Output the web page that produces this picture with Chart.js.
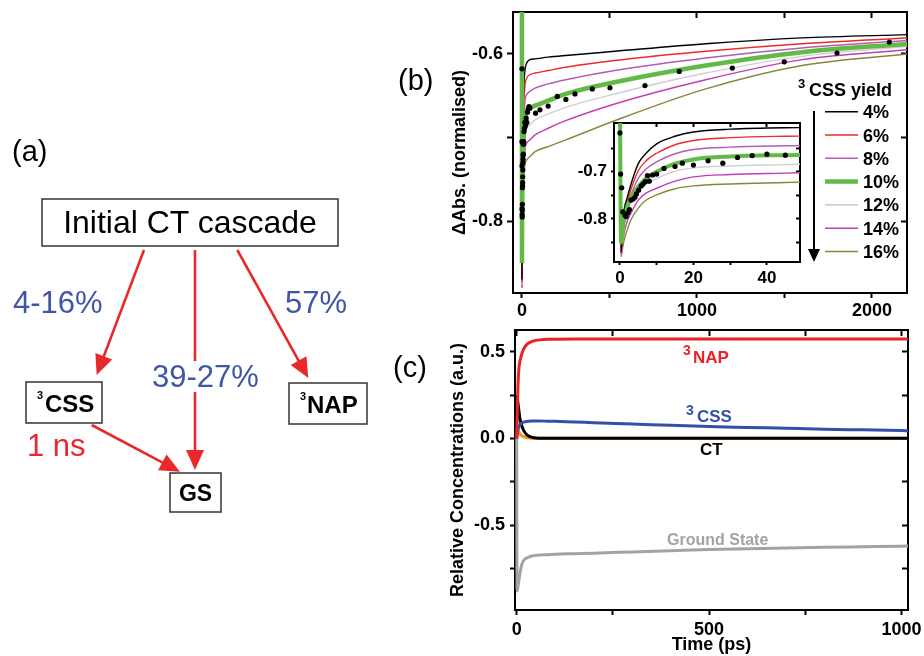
<!DOCTYPE html>
<html>
<head>
<meta charset="utf-8">
<script src="https://cdn.jsdelivr.net/npm/chart.js@4.4.0/dist/chart.umd.min.js"></script>
<style>
    body { margin: 0; background: #fff; width: 924px; height: 656px; overflow: hidden; position: relative; font-family: 'Liberation Sans', Arial, sans-serif; }
    canvas { position: absolute; }
    #cb { left: 440px; top: 0; }
    #ci { left: 570px; top: 118px; }
    #cc { left: 440px; top: 320px; }
    #ann { position: absolute; left: 0; top: 0; }
</style>
</head>
<body>
<canvas id="cb" width="484" height="320"></canvas>
<canvas id="ci" width="235" height="172"></canvas>
<canvas id="cc" width="484" height="336"></canvas>

<svg id="ann" width="924" height="656" font-family="'Liberation Sans', Arial, sans-serif">
    <text x="12" y="161" font-size="29">(a)</text>
    <text x="398" y="90" font-size="29">(b)</text>
    <text x="393" y="377" font-size="29">(c)</text>

    <g id="arrows" stroke="#e8282b" fill="#e8282b" stroke-width="2.6"></g>

    <rect x="42" y="199" width="296" height="47" fill="#fff" stroke="#333" stroke-width="1.5"/>
    <text x="190" y="233" font-size="32" text-anchor="middle">Initial CT cascade</text>

    <text x="13" y="313" font-size="31" fill="#3f55a5">4-16%</text>
    <text x="285" y="313" font-size="31" fill="#3f55a5">57%</text>
    <rect x="150" y="361" width="114" height="31" fill="#fff"/>
    <text x="152" y="387" font-size="31" fill="#3f55a5">39-27%</text>
    <text x="27" y="456" font-size="31" fill="#e8282b">1 ns</text>

    <rect x="26" y="382" width="76" height="41" fill="#fff" stroke="#333" stroke-width="1.5"/>
    <text x="37" y="399" font-size="11" font-weight="bold">3</text>
    <text x="45" y="412" font-size="24" font-weight="bold">CSS</text>
    <rect x="289" y="383" width="78" height="41" fill="#fff" stroke="#333" stroke-width="1.5"/>
    <text x="300" y="400" font-size="11" font-weight="bold">3</text>
    <text x="307" y="413" font-size="24" font-weight="bold">NAP</text>
    <rect x="170" y="473" width="51" height="39" fill="#fff" stroke="#333" stroke-width="1.5"/>
    <text x="195.5" y="501" font-size="23" font-weight="bold" text-anchor="middle">GS</text>

    <g font-weight="bold">
        <text x="798" y="88" font-size="13">3</text>
        <text x="809" y="96" font-size="18">CSS yield</text>
        <g id="legend" font-size="18"></g>
        <line x1="814" y1="111" x2="814" y2="250" stroke="#000" stroke-width="2"/>
        <polygon points="808,249 820,249 814,262" fill="#000"/>
    </g>

    <g font-weight="bold">
        <text x="683" y="355" font-size="14" fill="#ec2227">3</text>
        <text x="693" y="363" font-size="17" fill="#ec2227">NAP</text>
        <text x="686" y="415" font-size="14" fill="#3450a6">3</text>
        <text x="697" y="422" font-size="17" fill="#3450a6">CSS</text>
        <text x="700" y="455" font-size="17" fill="#000">CT</text>
        <text x="667" y="545" font-size="16" fill="#a3a3a3">Ground State</text>
    </g>
</svg>

<script>
// panel (b): fitted traces for each 3CSS yield
const tFit = [0, 0.3, 1, 2, 3, 5, 7, 10, 15, 20, 30, 45, 75, 150, 250, 530, 1050, 1600, 2210];
const yield04 = [-0.5, -0.87, -0.79, -0.755, -0.727, -0.683, -0.662, -0.641, -0.625, -0.616, -0.61, -0.607, -0.606, -0.604, -0.602, -0.597, -0.588, -0.581, -0.577];
const yield06 = [-0.5, -0.872, -0.8, -0.765, -0.738, -0.698, -0.678, -0.661, -0.643, -0.634, -0.628, -0.625, -0.623, -0.62, -0.616, -0.608, -0.597, -0.588, -0.581];
const yield08 = [-0.5, -0.874, -0.81, -0.775, -0.75, -0.714, -0.695, -0.679, -0.662, -0.653, -0.648, -0.645, -0.641, -0.636, -0.631, -0.62, -0.605, -0.593, -0.584];
const yield10 = [-0.5, -0.85, -0.805, -0.774, -0.756, -0.732, -0.715, -0.7, -0.683, -0.674, -0.668, -0.665, -0.662, -0.656, -0.648, -0.634, -0.614, -0.598, -0.588];
const yield12 = [-0.5, -0.876, -0.825, -0.787, -0.767, -0.742, -0.727, -0.714, -0.699, -0.692, -0.688, -0.685, -0.679, -0.672, -0.664, -0.648, -0.623, -0.603, -0.591];
const yield14 = [-0.5, -0.878, -0.835, -0.805, -0.788, -0.76, -0.746, -0.735, -0.72, -0.711, -0.706, -0.703, -0.697, -0.689, -0.68, -0.66, -0.631, -0.607, -0.595];
const yield16 = [-0.5, -0.88, -0.85, -0.823, -0.802, -0.777, -0.761, -0.749, -0.736, -0.73, -0.726, -0.723, -0.717, -0.711, -0.703, -0.68, -0.642, -0.614, -0.6];
const yieldLabels = ['4%', '6%', '8%', '10%', '12%', '14%', '16%'];
const yieldColors = ['#000000', '#ee2a2a', '#b35cb5', '#62b946', '#cfcfcf', '#c23cb4', '#878739'];

// measured points (black dots)
const tData = [0, 0.2, 0.5, 0.8, 1.4, 1.7, 2.2, 2.6, 3.0, 3.6, 4.1, 4.5, 5.1, 5.8, 6.3, 6.9, 7.5, 8.0, 8.9, 10, 12, 15, 17, 20, 24, 28, 32, 36, 40, 45, 78, 103, 150, 202, 251, 303, 402, 503, 703, 899, 1202, 1499, 1800, 2099];
const vData = [-0.618, -0.705, -0.734, -0.785, -0.792, -0.795, -0.787, -0.780, -0.760, -0.758, -0.754, -0.747, -0.739, -0.730, -0.726, -0.721, -0.708, -0.720, -0.707, -0.705, -0.693, -0.689, -0.682, -0.686, -0.677, -0.682, -0.670, -0.666, -0.663, -0.665, -0.671, -0.667, -0.6625, -0.651, -0.6545, -0.648, -0.642, -0.6406, -0.638, -0.621, -0.617, -0.6096, -0.599, -0.586];

// panel (c): kinetic model populations
const tConc = [0, 0.5, 1, 2, 3, 4, 6, 8, 10, 13, 16, 20, 25, 30, 40, 50, 60, 80, 100, 150, 200, 300, 400, 500, 600, 700, 800, 900, 1000, 1020];
const nap = [0, 0.06, 0.11, 0.2, 0.28, 0.34, 0.41, 0.44, 0.46, 0.485, 0.505, 0.522, 0.538, 0.548, 0.559, 0.565, 0.568, 0.571, 0.572, 0.573, 0.573, 0.573, 0.573, 0.573, 0.573, 0.573, 0.573, 0.573, 0.573, 0.573];
const css = [0, 0.012, 0.022, 0.037, 0.048, 0.057, 0.068, 0.076, 0.082, 0.088, 0.092, 0.095, 0.097, 0.099, 0.1, 0.1, 0.1, 0.099, 0.098, 0.095, 0.09, 0.083, 0.075, 0.068, 0.063, 0.058, 0.053, 0.049, 0.045, 0.044];
const ct = [0, 0.24, 0.236, 0.225, 0.21, 0.19, 0.155, 0.12, 0.098, 0.074, 0.056, 0.038, 0.024, 0.015, 0.006, 0.002, 0.001, 0, 0, 0, 0, 0, 0, 0, 0, 0, 0, 0, 0, 0];
const ctEarly = [0, 0.05, 0.07, 0.062, 0.054, 0.047, 0.036, 0.028, 0.022, 0.016, 0.012, 0.008, 0.005, 0.003, 0.001, 0, 0, 0, 0, 0, 0, 0, 0, 0, 0, 0, 0, 0, 0, 0];
const gs = [0, -0.6, -0.88, -0.875, -0.86, -0.845, -0.815, -0.785, -0.76, -0.73, -0.712, -0.699, -0.691, -0.686, -0.679, -0.675, -0.673, -0.671, -0.668, -0.665, -0.662, -0.655, -0.648, -0.641, -0.636, -0.632, -0.628, -0.625, -0.622, -0.621];

// ticks
const xTicksB = [0, 500, 1000, 1500, 2000], xLabelsB = [0, 1000, 2000];
const yTicksB = [-0.8, -0.7, -0.6], yLabelsB = [-0.8, -0.6];
const xTicksI = [0, 10, 20, 30, 40], xLabelsI = [0, 20, 40];
const yTicksI = [-0.85, -0.8, -0.75, -0.7, -0.65], yLabelsI = [-0.8, -0.7];
const xTicksC = [0, 250, 500, 750, 1000], xLabelsC = [0, 500, 1000];
const yTicksC = [-0.75, -0.5, -0.25, 0, 0.25, 0.5], yLabelsC = [-0.5, 0, 0.5];

Chart.defaults.font.family = "'Liberation Sans', Arial, sans-serif";
Chart.defaults.font.weight = 'bold';
Chart.defaults.color = '#000';
Chart.defaults.animation = false;

const pts = (xs, ys) => xs.map((x, i) => ({x: x, y: ys[i]}));

// fixed-size axis boxes, no extra label padding, so the plot area lands where we want it
const fixBox = (w, h) => s => {
    if (w !== null) s.width = w;
    if (h !== null) s.height = h;
    s.paddingTop = 0; s.paddingBottom = 0; s.paddingLeft = 0; s.paddingRight = 0;
};

function frame(c) {
    const setTicks = list => s => { s.ticks = list.map(v => ({value: v})); };
    const grid = len => ({drawOnChartArea: false, drawTicks: true, tickLength: len, tickWidth: 2, tickColor: '#000'});
    const border = {display: true, color: '#000', width: 2};
    const font = {size: c.font, weight: 'bold'};
    return {
        x: {
            type: 'linear', min: c.xMin, max: c.xMax, grid: grid(c.xLen), border: border,
            afterBuildTicks: setTicks(c.xTicks),
            ticks: {font: font, padding: c.xPad, maxRotation: 0, autoSkip: false,
                callback: v => c.xLabels.includes(v) ? String(v) : ''},
            title: c.xTitle ? {display: true, text: c.xTitle, font: {size: 18, weight: 'bold'}, padding: {top: 0, bottom: 0}} : {display: false},
            afterFit: fixBox(null, c.xH)
        },
        x2: {
            axis: 'x', type: 'linear', position: 'top', min: c.xMin, max: c.xMax,
            grid: grid(-c.inLen), border: border, ticks: {display: false},
            afterBuildTicks: setTicks(c.xTicks),
            afterFit: fixBox(null, 0)
        },
        y: {
            type: 'linear', min: c.yMin, max: c.yMax, grid: grid(c.yLen), border: border,
            afterBuildTicks: setTicks(c.yTicks),
            ticks: {font: font, padding: c.yPad, autoSkip: false,
                callback: v => c.yLabels.includes(v) ? v.toFixed(1) : ''},
            title: c.yTitle ? {display: true, text: c.yTitle, font: {size: 18, weight: 'bold'}, padding: {top: c.yTitlePad, bottom: 0}} : {display: false},
            afterFit: fixBox(c.yW, null)
        },
        y2: {
            axis: 'y', type: 'linear', position: 'right', min: c.yMin, max: c.yMax,
            grid: grid(-c.inLen), border: border, ticks: {display: false},
            afterBuildTicks: setTicks(c.yTicks),
            afterFit: fixBox(0, null)
        }
    };
}

function yieldSets(greenWidth) {
    const curves = [yield04, yield06, yield08, yield10, yield12, yield14, yield16];
    const sets = curves.map((c, i) => ({
        label: yieldLabels[i],
        data: pts(tFit, c),
        borderColor: yieldColors[i],
        borderWidth: i === 3 ? greenWidth : 1.4,
        pointRadius: 0,
        cubicInterpolationMode: 'monotone',
        order: i === 3 ? 1 : 2 + i
    }));
    sets.unshift({
        label: 'data', data: pts(tData, vData), showLine: false,
        pointRadius: 2.6, pointBackgroundColor: '#000', pointBorderWidth: 0, order: 0
    });
    return sets;
}

const whiteArea = {
    id: 'whiteArea',
    beforeDraw(chart) {
        const a = chart.chartArea, ctx = chart.ctx;
        ctx.save();
        ctx.fillStyle = '#fff';
        ctx.fillRect(a.left, a.top, a.right - a.left, a.bottom - a.top);
        ctx.restore();
    }
};

const common = {
    responsive: false,
    plugins: {legend: {display: false}, tooltip: {enabled: false}},
    elements: {line: {fill: false}}
};

new Chart(document.getElementById('cb'), {
    type: 'line',
    data: {datasets: yieldSets(4.5)},
    options: {
        ...common,
        layout: {padding: {left: 0, top: 12, right: 17, bottom: 0}},
        scales: frame({
            xMin: -51, xMax: 2200, xTicks: xTicksB, xLabels: xLabelsB, xLen: 5, xPad: 2, xH: 27,
            yMin: -0.886, yMax: -0.55, yTicks: yTicksB, yLabels: yLabelsB, yLen: 6, yPad: 4, yW: 73,
            yTitle: 'ΔAbs. (normalised)', yTitlePad: 9, inLen: 6, font: 18
        })
    }
});

new Chart(document.getElementById('ci'), {
    type: 'line',
    data: {datasets: yieldSets(4)},
    options: {
        ...common,
        layout: {padding: {left: 0, top: 5, right: 5, bottom: 0}},
        scales: frame({
            xMin: -1.6, xMax: 49, xTicks: xTicksI, xLabels: xLabelsI, xLen: 3, xPad: 3, xH: 28,
            yMin: -0.891, yMax: -0.597, yTicks: yTicksI, yLabels: yLabelsI, yLen: 3, yPad: 4, yW: 44,
            inLen: 4, font: 17
        })
    },
    plugins: [whiteArea]
});

const concSets = [
    {data: pts(tConc, nap), borderColor: '#ec2227'},
    {data: pts(tConc, css), borderColor: '#3450a6'},
    {data: pts(tConc, ct), borderColor: '#000000'},
    {data: pts(tConc, ctEarly), borderColor: '#f7931e'},
    {data: pts(tConc, gs), borderColor: '#a3a3a3'}
].map((d, i) => ({...d, borderWidth: 3, pointRadius: 0, cubicInterpolationMode: 'monotone', order: i}));

new Chart(document.getElementById('cc'), {
    type: 'line',
    data: {datasets: concSets},
    options: {
        ...common,
        layout: {padding: {left: 0, top: 10, right: 16, bottom: 0}},
        scales: frame({
            xMin: -4.4, xMax: 1017, xTicks: xTicksC, xLabels: xLabelsC, xLen: 5, xPad: 4, xH: 46,
            xTitle: 'Time (ps)',
            yMin: -0.99, yMax: 0.625, yTicks: yTicksC, yLabels: yLabelsC, yLen: 5, yPad: 5, yW: 75,
            yTitle: 'Relative Concentrations (a.u.)', yTitlePad: 7, inLen: 6, font: 18
        })
    }
});

// legend of panel (b)
const NS = 'http://www.w3.org/2000/svg';
const legend = document.getElementById('legend');
yieldLabels.forEach((lab, i) => {
    const y = 111.7 + i * 23.3;
    const ln = document.createElementNS(NS, 'line');
    ln.setAttribute('x1', 825); ln.setAttribute('x2', 858);
    ln.setAttribute('y1', y); ln.setAttribute('y2', y);
    ln.setAttribute('stroke', yieldColors[i]);
    ln.setAttribute('stroke-width', i === 3 ? 4.5 : 1.6);
    legend.appendChild(ln);
    const tx = document.createElementNS(NS, 'text');
    tx.setAttribute('x', 863); tx.setAttribute('y', y + 6.5);
    tx.textContent = lab;
    legend.appendChild(tx);
});

// arrows of the scheme (a)
const arrows = document.getElementById('arrows');
function arrow(x1, y1, x2, y2) {
    const L = 20, W = 9;
    const d = Math.hypot(x2 - x1, y2 - y1), ux = (x2 - x1) / d, uy = (y2 - y1) / d;
    const bx = x2 - ux * L, by = y2 - uy * L;
    const ln = document.createElementNS(NS, 'line');
    ln.setAttribute('x1', x1); ln.setAttribute('y1', y1);
    ln.setAttribute('x2', bx + ux * 2); ln.setAttribute('y2', by + uy * 2);
    arrows.appendChild(ln);
    const pg = document.createElementNS(NS, 'polygon');
    pg.setAttribute('points', `${x2},${y2} ${bx - uy * W},${by + ux * W} ${bx + uy * W},${by - ux * W}`);
    pg.setAttribute('stroke', 'none');
    arrows.appendChild(pg);
}
arrow(144, 250, 96.7, 375);
arrow(195, 250, 195, 470);
arrow(237.3, 250, 308.3, 378);
arrow(91.7, 425, 180, 471.7);
</script>
</body>
</html>
